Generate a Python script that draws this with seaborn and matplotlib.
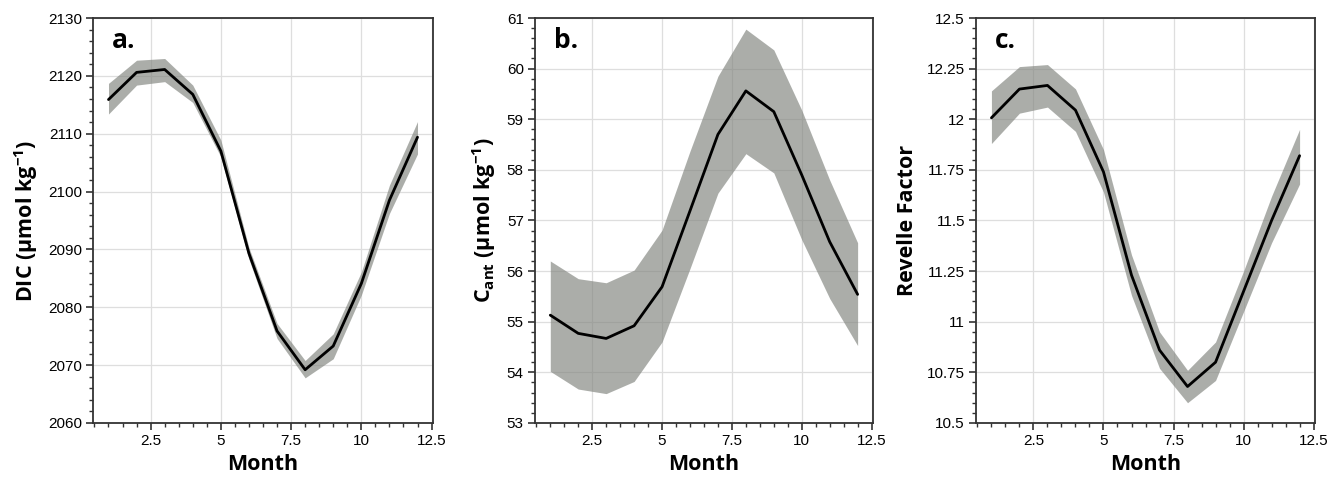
import matplotlib
matplotlib.use("Agg")
import matplotlib.pyplot as plt
from matplotlib.ticker import MultipleLocator, FuncFormatter
import numpy as np
import pandas as pd
import seaborn as sns

months = [1, 2, 3, 4, 5, 6, 7, 8, 9, 10, 11, 12]

dic_mean = [2115.9, 2120.6, 2121.1, 2116.8, 2107.0, 2089.3, 2075.9, 2069.2, 2073.3, 2084.1, 2098.5, 2109.4]
dic_upper = [2118.7, 2122.7, 2123.0, 2118.4, 2108.9, 2090.3, 2077.2, 2070.8, 2075.4, 2086.1, 2101.1, 2112.1]
dic_lower = [2113.4, 2118.4, 2119.0, 2115.4, 2106.0, 2088.3, 2074.6, 2067.8, 2071.1, 2082.1, 2096.2, 2106.5]

cant_mean = [55.13, 54.77, 54.67, 54.92, 55.69, 57.19, 58.70, 59.56, 59.15, 57.90, 56.58, 55.54]
cant_upper = [56.20, 55.85, 55.77, 56.02, 56.81, 58.37, 59.85, 60.78, 60.37, 59.18, 57.80, 56.56]
cant_lower = [54.02, 53.67, 53.58, 53.82, 54.60, 56.05, 57.54, 58.32, 57.94, 56.62, 55.46, 54.53]

rf_mean = [12.007, 12.149, 12.167, 12.045, 11.740, 11.230, 10.860, 10.680, 10.800, 11.150, 11.500, 11.820]
rf_upper = [12.140, 12.260, 12.270, 12.150, 11.850, 11.330, 10.950, 10.760, 10.900, 11.250, 11.620, 11.950]
rf_lower = [11.880, 12.030, 12.060, 11.940, 11.640, 11.130, 10.770, 10.600, 10.710, 11.050, 11.390, 11.680]

panel_letters = ["a.", "b.", "c."]
ylabels = ["DIC (µmol kg$^{-1}$)", "C$_{ant}$ (µmol kg$^{-1}$)", "Revelle Factor"]
xlabel = "Month"
ylims = [(2060, 2130), (53, 61), (10.5, 12.5)]
ymajor = [10, 1, 0.25]
yminor = [2, 0.2, 0.05]

sns.set_theme(style="ticks")
plt.rcParams["font.family"] = ["Liberation Sans", "DejaVu Sans"]
plt.rcParams["mathtext.fontset"] = "custom"
plt.rcParams["mathtext.rm"] = "Open Sans:bold"
plt.rcParams["mathtext.it"] = "Open Sans:bold"
plt.rcParams["mathtext.bf"] = "Open Sans:bold"
plt.rcParams["text.color"] = "black"
plt.rcParams["axes.labelcolor"] = "black"

fig = plt.figure(figsize=(13.33, 4.8), dpi=100)
lefts = [0.0698, 0.4013, 0.7322]
widths = [0.255, 0.2536, 0.2543]
bottom, height = 0.1188, 0.8437

series = [(dic_mean, dic_upper, dic_lower), (cant_mean, cant_upper, cant_lower), (rf_mean, rf_upper, rf_lower)]

fmt = FuncFormatter(lambda v, p: f"{v:g}")
spine_col = "#333333"

for i in range(3):
    ax = fig.add_axes([lefts[i], bottom, widths[i], height])
    mean, up, lo = series[i]
    df = pd.DataFrame({"Month": months, "value": mean})
    ax.set_axisbelow(True)
    ax.grid(True, color="#dedede", linewidth=0.9)
    ax.fill_between(months, lo, up, color="#7f827c", alpha=0.65, linewidth=0, zorder=2)
    sns.lineplot(data=df, x="Month", y="value", ax=ax, color="black", linewidth=2.0, zorder=3)
    ax.set_xlim(0.45, 12.55)
    ax.set_ylim(*ylims[i])
    ax.xaxis.set_major_locator(MultipleLocator(2.5))
    ax.xaxis.set_minor_locator(MultipleLocator(0.5))
    ax.yaxis.set_major_locator(MultipleLocator(ymajor[i]))
    ax.yaxis.set_minor_locator(MultipleLocator(yminor[i]))
    ax.xaxis.set_major_formatter(fmt)
    ax.yaxis.set_major_formatter(fmt)
    ax.tick_params(which="major", direction="out", length=5, width=1.2, color=spine_col,
                   labelsize=11, labelcolor="black", top=False, right=False, pad=3)
    ax.tick_params(which="minor", direction="out", length=3, width=1.0, color=spine_col,
                   top=False, right=False)
    for s in ax.spines.values():
        s.set_color(spine_col)
        s.set_linewidth(1.3)
    ax.set_xlabel(xlabel, fontfamily="Open Sans", fontweight="bold", fontsize=15.5, labelpad=4,
                  color="black")
    ax.set_ylabel(ylabels[i], fontfamily="Open Sans", fontweight="bold", fontsize=15.5, labelpad=6,
                  color="black")
    ax.text(0.055, 0.926, panel_letters[i], transform=ax.transAxes, fontfamily="Open Sans",
            fontweight="bold", fontsize=19, va="baseline", ha="left", color="black")

fig.savefig("out.png", dpi=100)
